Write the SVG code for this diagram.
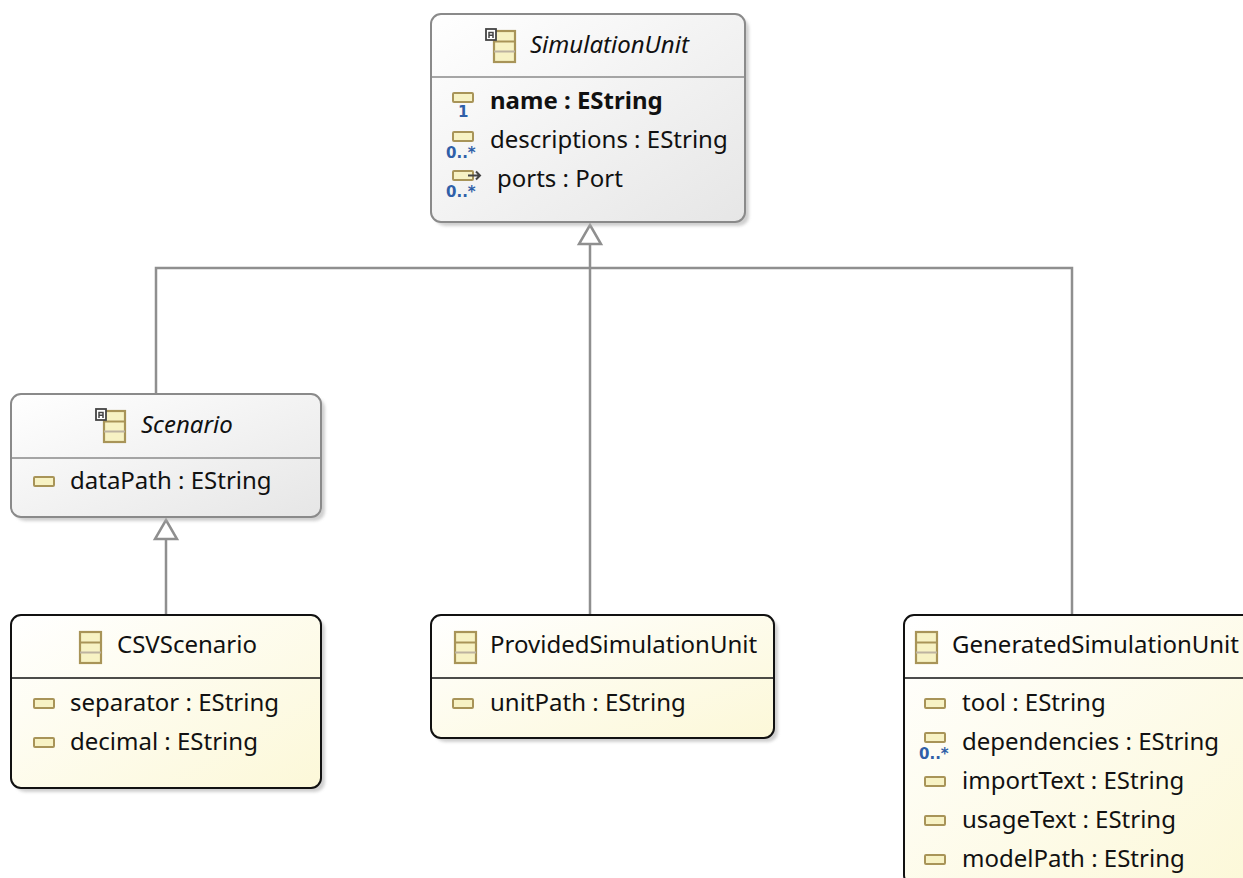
<svg xmlns="http://www.w3.org/2000/svg" width="1243" height="878" viewBox="0 0 1243 878">
<defs>
<linearGradient id="gAbs" x1="0" y1="0" x2="1" y2="1">
<stop offset="0" stop-color="#ffffff"/><stop offset="1" stop-color="#e6e6e6"/>
</linearGradient>
<linearGradient id="gCls" x1="0" y1="0" x2="1" y2="1">
<stop offset="0" stop-color="#ffffff"/><stop offset="1" stop-color="#fcf8d8"/>
</linearGradient>
<filter id="sh" x="-10%" y="-10%" width="120%" height="120%">
<feGaussianBlur stdDeviation="1.5"/>
</filter>
<g id="clsIcon">
<rect x="0" y="0" width="21" height="31" fill="#f7f2c4" stroke="#a89458" stroke-width="2.2"/>
<line x1="0" y1="10.5" x2="21" y2="10.5" stroke="#a89458" stroke-width="2"/>
<line x1="0" y1="20.5" x2="21" y2="20.5" stroke="#bdb3a0" stroke-width="2"/>
</g>
<g id="absMark">
<rect x="0" y="0" width="10" height="11" fill="#ffffff" stroke="#444" stroke-width="1.8"/>
<path d="M3,9 V3.5 H7 V9 M3,6.2 H7" fill="none" stroke="#444" stroke-width="1.5"/>
</g>
<g id="attrIcon">
<rect x="0" y="0" width="20" height="9" rx="1" fill="#f7f2c4" stroke="#a89458" stroke-width="2"/>
</g>
</defs>
<style>
.abs{fill:url(#gAbs);stroke:#8a8a8a;stroke-width:2}
.cls{fill:url(#gCls);stroke:#111;stroke-width:2}
.shd{fill:#b0b0b0;opacity:0.6;filter:url(#sh)}
.sepA{stroke:#8a8a8a;stroke-width:1.5}
.sepC{stroke:#111;stroke-width:1.5}
text{font-family:"Noto Sans","DejaVu Sans",sans-serif;font-size:24px;fill:#111}
.it{font-style:italic}
.b{font-weight:bold}
.mul{font-family:"DejaVu Sans",sans-serif;font-size:15px;font-weight:bold;fill:#2f5fa8}
.conn{fill:none;stroke:#8f8f8f;stroke-width:2.5}
.tri{fill:#ffffff;stroke:#8f8f8f;stroke-width:2.5;stroke-linejoin:miter}
</style>
<rect width="1243" height="878" fill="#ffffff"/>

<g id="connectors">
<polyline class="conn" points="156,394 156,268 1072,268 1072,615"/>
<line class="conn" x1="590" y1="615" x2="590" y2="244"/>
<polygon class="tri" points="590,225 601,244 579,244"/>
<line class="conn" x1="166" y1="615" x2="166" y2="539"/>
<polygon class="tri" points="166,520 177,539 155,539"/>
</g>

<g id="SimulationUnit">
<rect class="shd" x="435" y="18" width="314" height="208" rx="10"/>
<rect class="abs" x="431" y="14" width="314" height="208" rx="10"/>
<line class="sepA" x1="431" y1="77" x2="745" y2="77"/>
<use href="#clsIcon" x="494" y="31"/>
<use href="#absMark" x="486" y="29"/>
<text class="it" x="530" y="53">SimulationUnit</text>
<use href="#attrIcon" x="453" y="93"/>
<text class="mul" x="458" y="117">1</text>
<text class="b" x="490" y="109">name : EString</text>
<use href="#attrIcon" x="453" y="132"/>
<text class="mul" x="446" y="158">0..*</text>
<text x="490" y="148">descriptions : EString</text>
<use href="#attrIcon" x="453" y="171"/>
<path d="M468,175.5 H480 M476,171.5 L480,175.5 L476,179.5" fill="none" stroke="#444" stroke-width="2"/>
<text class="mul" x="446" y="197">0..*</text>
<text x="497" y="187">ports : Port</text>
</g>

<g id="Scenario">
<rect class="shd" x="15" y="398" width="310" height="123" rx="10"/>
<rect class="abs" x="11" y="394" width="310" height="123" rx="10"/>
<line class="sepA" x1="11" y1="458" x2="321" y2="458"/>
<use href="#clsIcon" x="104" y="411"/>
<use href="#absMark" x="96" y="409"/>
<text class="it" x="141" y="433">Scenario</text>
<use href="#attrIcon" x="34" y="477"/>
<text x="70" y="489">dataPath : EString</text>
</g>

<g id="CSVScenario">
<rect class="shd" x="15" y="619" width="310" height="173" rx="10"/>
<rect class="cls" x="11" y="615" width="310" height="173" rx="10"/>
<line class="sepC" x1="11" y1="678" x2="321" y2="678"/>
<use href="#clsIcon" x="80" y="632"/>
<text x="117" y="653">CSVScenario</text>
<use href="#attrIcon" x="34" y="699"/>
<text x="70" y="711">separator : EString</text>
<use href="#attrIcon" x="34" y="738"/>
<text x="70" y="750">decimal : EString</text>
</g>

<g id="ProvidedSimulationUnit">
<rect class="shd" x="435" y="619" width="343" height="123" rx="10"/>
<rect class="cls" x="431" y="615" width="343" height="123" rx="10"/>
<line class="sepC" x1="431" y1="678" x2="774" y2="678"/>
<use href="#clsIcon" x="455" y="632"/>
<text x="490" y="653">ProvidedSimulationUnit</text>
<use href="#attrIcon" x="453" y="699"/>
<text x="490" y="711">unitPath : EString</text>
</g>

<g id="GeneratedSimulationUnit">
<rect class="cls" x="904" y="615" width="350" height="270" rx="10"/>
<line class="sepC" x1="904" y1="678" x2="1243" y2="678"/>
<use href="#clsIcon" x="916" y="632"/>
<text x="952" y="653">GeneratedSimulationUnit</text>
<use href="#attrIcon" x="925" y="699"/>
<text x="962" y="711">tool : EString</text>
<use href="#attrIcon" x="925" y="733"/>
<text class="mul" x="919" y="759">0..*</text>
<text x="962" y="750">dependencies : EString</text>
<use href="#attrIcon" x="925" y="777"/>
<text x="962" y="789">importText : EString</text>
<use href="#attrIcon" x="925" y="816"/>
<text x="962" y="828">usageText : EString</text>
<use href="#attrIcon" x="925" y="855"/>
<text x="962" y="867">modelPath : EString</text>
</g>
</svg>
